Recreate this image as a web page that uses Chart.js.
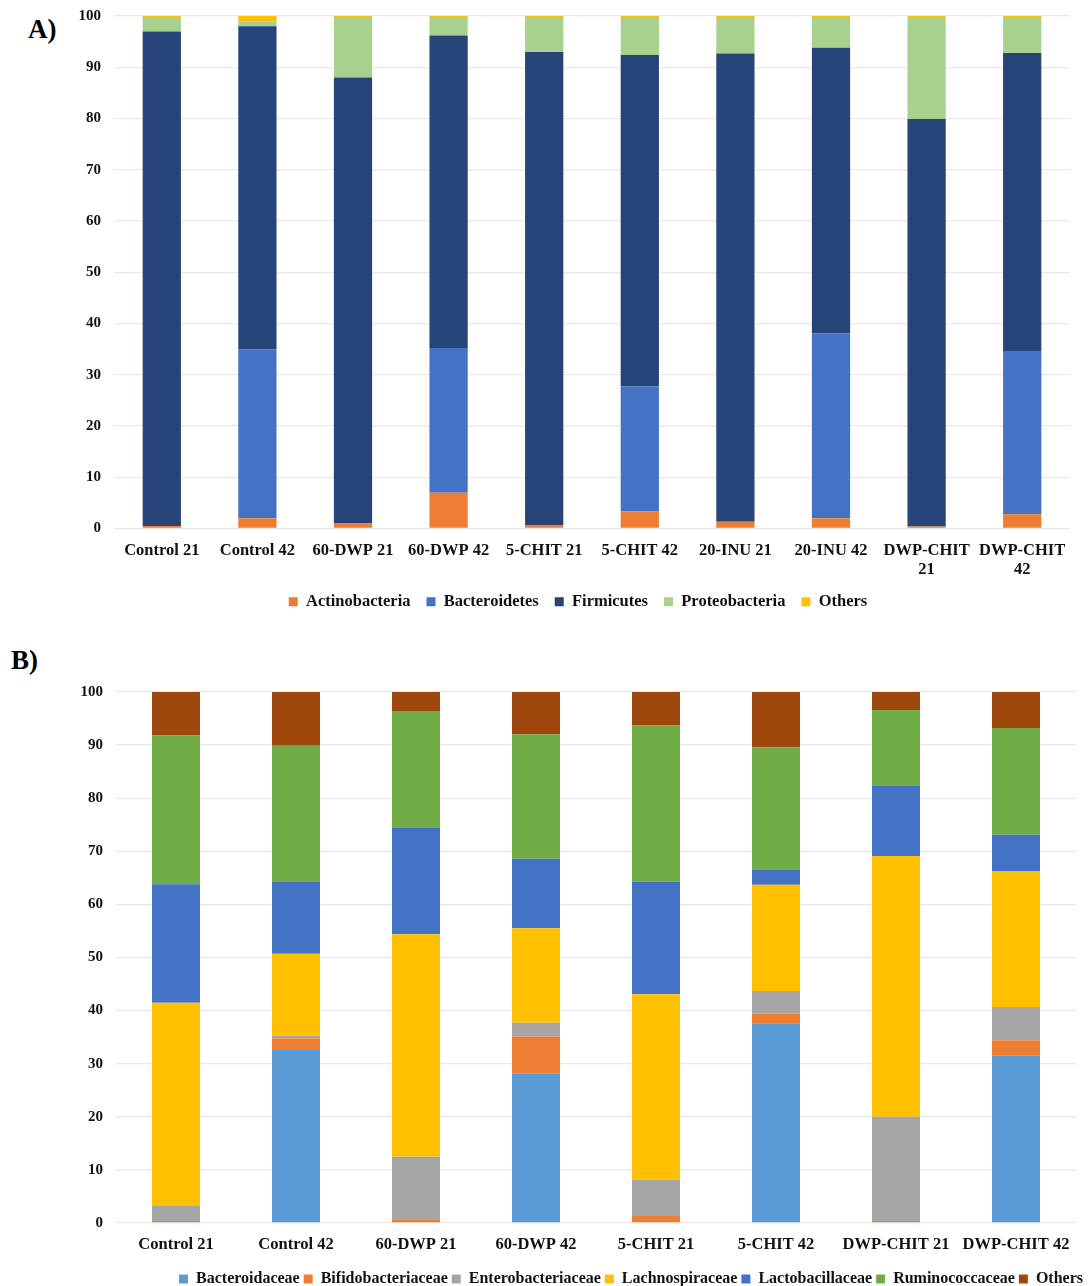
<!DOCTYPE html>
<html>
<head>
<meta charset="utf-8">
<script src="https://cdn.jsdelivr.net/npm/chart.js@4.4.1/dist/chart.umd.min.js"></script>
<style>
  html, body { margin: 0; padding: 0; background: #fff; overflow: hidden; width: 1089px; height: 1286px; }
  .panel { position: absolute; left: 0; }
  .tag { position: absolute; font-family: 'Liberation Serif', 'Times New Roman', serif; font-weight: bold; font-size: 27px; color: #000; }
</style>
</head>
<body>
<div class="tag" style="left:28px;top:14px">A)</div>
<div class="panel" style="top:0"><canvas id="chartA" width="1089" height="620"></canvas></div>
<div class="tag" style="left:11px;top:645px">B)</div>
<div class="panel" style="top:640px"><canvas id="chartB" width="1089" height="657"></canvas></div>
<script>
// A) phylum level
const groupsA = ['Control 21', 'Control 42', '60-DWP 21', '60-DWP 42', '5-CHIT 21', '5-CHIT 42',
  '20-INU 21', '20-INU 42', ['DWP-CHIT', '21'], ['DWP-CHIT', '42']];
const actinobacteria = [0.5, 2, 1, 7, 0.7, 3.3, 1.3, 2, 0.4, 2.8];
const bacteroidetes = [0, 33, 0, 28.2, 0, 24.4, 0, 36.1, 0, 31.7];
const firmicutes = [96.5, 63, 87, 61, 92.3, 64.7, 91.4, 55.7, 79.5, 58.3];
const proteobacteria = [2.8, 1, 11.8, 3.6, 6.8, 7.4, 7.1, 6.0, 19.9, 7.0];
const othersA = [0.2, 1, 0.2, 0.2, 0.2, 0.2, 0.2, 0.2, 0.2, 0.2];

// B) family level
const groupsB = ['Control 21', 'Control 42', '60-DWP 21', '60-DWP 42', '5-CHIT 21', '5-CHIT 42',
  'DWP-CHIT 21', 'DWP-CHIT 42'];
const bacteroidaceae = [0, 32.6, 0, 28.1, 0, 37.6, 0, 31.5];
const bifidobacteriaceae = [0.4, 2.2, 0.7, 7, 1.3, 1.8, 0.4, 2.9];
const enterobacteriaceae = [2.8, 0.5, 11.8, 2.6, 6.9, 4.3, 19.6, 6.3];
const lachnospiraceae = [38.3, 15.4, 41.9, 17.8, 34.9, 20, 49.1, 25.6];
const lactobacillaceae = [22.3, 13.5, 20, 13.1, 21.2, 2.8, 13.2, 6.8];
const ruminococcaceae = [28, 25.7, 22, 23.4, 29.4, 23.1, 14.3, 20.1];
const othersB = [8.2, 10.1, 3.6, 8.2, 6.3, 10.4, 3.4, 6.8];

const yTicks = [0, 10, 20, 30, 40, 50, 60, 70, 80, 90, 100];

const SERIF = "'Liberation Serif', 'Times New Roman', serif";
const TICK_FONT = { family: SERIF, size: 15, weight: 'bold' };
const LABEL_FONT = { family: SERIF, size: 16.5, weight: 'bold' };

// Slide the legend sideways (the original legends sit right of centre)
const legendShift = {
  id: 'legendShift',
  afterLayout(chart, args, opts) {
    if (!chart.legend || !opts.dx) return;
    chart.legend.left += opts.dx;
    chart.legend.right += opts.dx;
  },
};

function series(label, data, color) {
  return { label, data, backgroundColor: color, borderWidth: 0, barPercentage: 0.4, categoryPercentage: 1 };
}

function makeChart(canvasId, labels, datasets, opt) {
  return new Chart(document.getElementById(canvasId), {
    type: 'bar',
    data: { labels, datasets },
    plugins: [legendShift],
    options: {
      responsive: false,
      animation: false,
      layout: { padding: { left: 0, right: opt.padRight, top: opt.padTop, bottom: 0 } },
      plugins: {
        tooltip: { enabled: false },
        legendShift: { dx: opt.legendDx },
        legend: {
          position: 'bottom',
          labels: {
            color: '#111',
            font: { ...LABEL_FONT, size: opt.legendSize },
            boxWidth: 9,
            boxHeight: 9,
            padding: opt.legendPad,
          },
        },
      },
      scales: {
        x: {
          stacked: true,
          grid: { display: false, drawTicks: false },
          border: { display: false },
          ticks: { color: '#111', font: LABEL_FONT, padding: 12, maxRotation: 0, autoSkip: false },
          afterFit: (s) => { s.height = opt.xHeight; },
        },
        y: {
          stacked: true,
          min: 0,
          max: 100,
          afterBuildTicks: (s) => { s.ticks = yTicks.map((v) => ({ value: v })); },
          grid: { color: '#e8e8e8', lineWidth: 1.3, drawTicks: false },
          border: { display: false },
          ticks: { color: '#111', font: TICK_FONT, padding: 13 },
          afterFit: (s) => {
            s.width = opt.yWidth;
            s.paddingTop = 0;
            s.paddingBottom = 0;
          },
        },
      },
    },
  });
}

makeChart('chartA', groupsA, [
  series('Actinobacteria', actinobacteria, '#ED7D31'),
  series('Bacteroidetes', bacteroidetes, '#4472C4'),
  series('Firmicutes', firmicutes, '#264478'),
  series('Proteobacteria', proteobacteria, '#A9D18E'),
  series('Others', othersA, '#FFC000'),
], { padRight: 19, padTop: 16, yWidth: 114, xHeight: 49, legendPad: 16, legendSize: 16.5, legendDx: 43 });

makeChart('chartB', groupsB, [
  series('Bacteroidaceae', bacteroidaceae, '#5B9BD5'),
  series('Bifidobacteriaceae', bifidobacteriaceae, '#ED7D31'),
  series('Enterobacteriaceae', enterobacteriaceae, '#A5A5A5'),
  series('Lachnospiraceae', lachnospiraceae, '#FFC000'),
  series('Lactobacillaceae', lactobacillaceae, '#4472C4'),
  series('Ruminococcaceae', ruminococcaceae, '#70AD47'),
  series('Others', othersB, '#9E480E'),
], { padRight: 13, padTop: 52, yWidth: 116, xHeight: 44, legendPad: 4, legendSize: 16, legendDx: 93 });
</script>
</body>
</html>
